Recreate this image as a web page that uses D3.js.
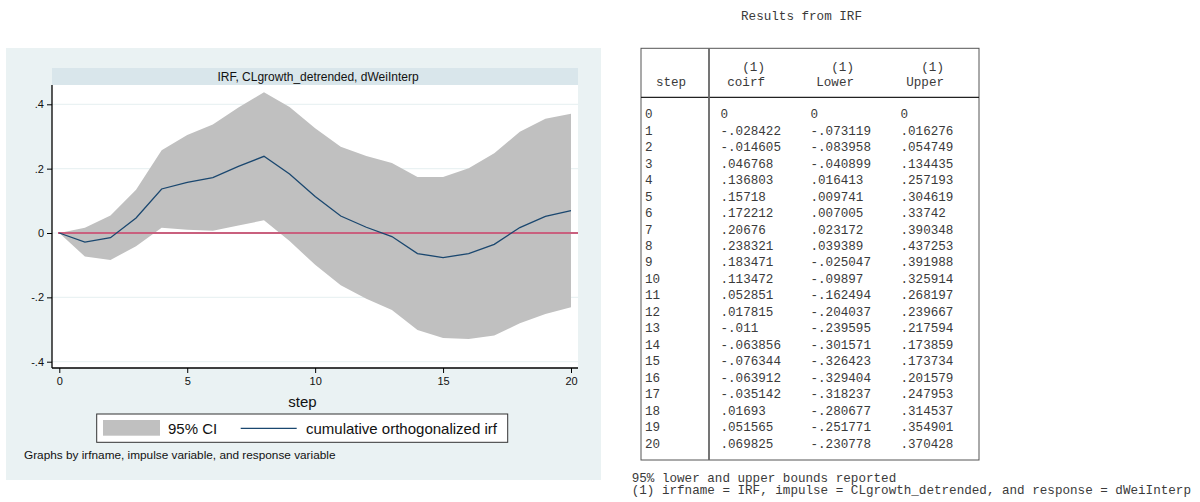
<!DOCTYPE html>
<html>
<head>
<meta charset="utf-8">
<script src="https://cdn.jsdelivr.net/npm/d3@7"></script>
<style>
  body { margin: 0; background: #fff; }
  svg { display: block; }
  .mono { font-family: "Liberation Mono", "Courier New", monospace; font-size: 12.6px; fill: #3a3a3a; }
  .sans { font-family: "Liberation Sans", Arial, sans-serif; }
</style>
</head>
<body>
<svg id="chart" width="1200" height="502"></svg>
<script>
// values from the IRF results table
const steps = d3.range(0, 21);
const coirf = [0, -.028422, -.014605, .046768, .136803, .15718, .172212, .20676, .238321, .183471,
  .113472, .052851, .017815, -.011, -.063856, -.076344, -.063912, -.035142, .01693, .051565, .069825];
const lower = [0, -.073119, -.083958, -.040899, .016413, .009741, .007005, .023172, .039389, -.025047,
  -.09897, -.162494, -.204037, -.239595, -.301571, -.326423, -.329404, -.318237, -.280677, -.251771, -.230778];
const upper = [0, .016276, .054749, .134435, .257193, .304619, .33742, .390348, .437253, .391988,
  .325914, .268197, .239667, .217594, .173859, .173734, .201579, .247953, .314537, .354901, .370428];
const xTicks = [0, 5, 10, 15, 20];
const yTicks = [-.4, -.2, 0, .2, .4];

const svg = d3.select("#chart");

// stata-ish number display: drop the leading zero
const fmt = v => v === 0 ? "0" : String(v).replace("0.", ".");

// ---- graph panel ----
svg.append("rect").attr("x", 6).attr("y", 48).attr("width", 595).attr("height", 432).attr("fill", "#eaf2f3");

const plot = { left: 52, right: 578, top: 85, bottom: 368 };
svg.append("rect").attr("x", plot.left).attr("y", 68).attr("width", plot.right - plot.left).attr("height", 17)
  .attr("fill", "#d9e6eb");
svg.append("text").attr("class", "sans").attr("x", 318).attr("y", 80.5).attr("text-anchor", "middle")
  .attr("font-size", 12).attr("fill", "#111").text("IRF, CLgrowth_detrended, dWeiInterp");

svg.append("rect").attr("x", plot.left).attr("y", plot.top).attr("width", plot.right - plot.left)
  .attr("height", plot.bottom - plot.top).attr("fill", "#fff");

const x = d3.scaleLinear().domain([0, 20]).range([59.3, 571]);
const y = d3.scaleLinear().domain([-.4, .4]).range([361.7, 104.3]);

// grid
svg.append("g").selectAll("line").data(yTicks).join("line")
  .attr("x1", plot.left).attr("x2", plot.right)
  .attr("y1", d => y(d)).attr("y2", d => y(d))
  .attr("stroke", "#eaf2f3").attr("stroke-width", 1.2);

// confidence band
const band = d3.area().x(d => x(d)).y0(d => y(lower[d])).y1(d => y(upper[d]));
svg.append("path").datum(steps).attr("d", band).attr("fill", "#c0c0c0");

// zero line
svg.append("line").attr("x1", 58).attr("x2", plot.right).attr("y1", y(0)).attr("y2", y(0))
  .attr("stroke", "#c9607e").attr("stroke-width", 2);

// irf line
const line = d3.line().x(d => x(d)).y(d => y(coirf[d]));
svg.append("path").datum(steps).attr("d", line).attr("fill", "none")
  .attr("stroke", "#1a476f").attr("stroke-width", 1.3);

// axes
const yAxis = svg.append("g").attr("transform", `translate(${plot.left},0)`)
  .call(d3.axisLeft(y).tickValues(yTicks).tickSize(5).tickPadding(3)
    .tickFormat(d => d === 0 ? "0" : String(+d.toFixed(1)).replace("0.", ".")));
yAxis.select(".domain").attr("d", `M0,${plot.top}V${plot.bottom}`).attr("stroke", "#000").attr("stroke-width", 1.3);

const xAxis = svg.append("g").attr("transform", `translate(0,${plot.bottom})`)
  .call(d3.axisBottom(x).tickValues(xTicks).tickSize(5).tickPadding(4));
xAxis.select(".domain").attr("d", `M${plot.left},0H${plot.right}`).attr("stroke", "#000").attr("stroke-width", 1.3);

[yAxis, xAxis].forEach(g => {
  g.selectAll("text").attr("font-family", "Liberation Sans, Arial, sans-serif").attr("font-size", 11).attr("fill", "#111");
  g.selectAll(".tick line").attr("stroke", "#000");
});

svg.append("text").attr("class", "sans").attr("x", 302.5).attr("y", 407).attr("text-anchor", "middle")
  .attr("font-size", 15).attr("fill", "#111").text("step");

// legend
svg.append("rect").attr("x", 96.7).attr("y", 414).attr("width", 411).attr("height", 28.3)
  .attr("fill", "#fff").attr("stroke", "#333").attr("stroke-width", 1);
svg.append("rect").attr("x", 103).attr("y", 420).attr("width", 57).attr("height", 15.7).attr("fill", "#c0c0c0");
svg.append("text").attr("class", "sans").attr("x", 168).attr("y", 434.3).attr("font-size", 15)
  .attr("fill", "#111").text("95% CI");
svg.append("line").attr("x1", 240.7).attr("x2", 296.7).attr("y1", 428.3).attr("y2", 428.3)
  .attr("stroke", "#1a476f").attr("stroke-width", 1.3);
svg.append("text").attr("class", "sans").attr("x", 306).attr("y", 434.3).attr("font-size", 15)
  .attr("fill", "#111").text("cumulative orthogonalized irf");

svg.append("text").attr("class", "sans").attr("x", 24).attr("y", 459).attr("font-size", 11.8)
  .attr("fill", "#111").text("Graphs by irfname, impulse variable, and response variable");

// ---- results table ----
svg.append("text").attr("class", "mono").attr("x", 801.5).attr("y", 20).attr("text-anchor", "middle")
  .text("Results from IRF");

const tb = { left: 641, right: 979, top: 48.3, head: 97.3, bottom: 460, div: 709 };
svg.append("rect").attr("x", tb.left).attr("y", tb.top).attr("width", tb.right - tb.left)
  .attr("height", tb.bottom - tb.top).attr("fill", "none").attr("stroke", "#555").attr("stroke-width", 1);
svg.append("line").attr("x1", tb.left).attr("x2", tb.right).attr("y1", tb.head).attr("y2", tb.head)
  .attr("stroke", "#222").attr("stroke-width", 1.2);
svg.append("line").attr("x1", tb.div).attr("x2", tb.div).attr("y1", tb.top).attr("y2", tb.bottom)
  .attr("stroke", "#666").attr("stroke-width", 1.8);

const colX = [645, 720.5, 810.5, 900.5];
const headRight = [765, 854, 944];
const headNames = ["coirf", "Lower", "Upper"];
svg.append("text").attr("class", "mono").attr("x", 671).attr("y", 86).attr("text-anchor", "middle").text("step");
headNames.forEach((h, i) => {
  svg.append("text").attr("class", "mono").attr("x", headRight[i]).attr("y", 71).attr("text-anchor", "end").text("(1)");
  svg.append("text").attr("class", "mono").attr("x", headRight[i]).attr("y", 86).attr("text-anchor", "end").text(h);
});

const rowY = d3.scaleLinear().domain([0, 20]).range([118.3, 447.6]);
const rows = svg.append("g").selectAll("g").data(steps).join("g")
  .attr("transform", d => `translate(0,${rowY(d)})`);
rows.append("text").attr("class", "mono").attr("x", colX[0]).text(d => d);
rows.append("text").attr("class", "mono").attr("x", colX[1]).text(d => fmt(coirf[d]));
rows.append("text").attr("class", "mono").attr("x", colX[2]).text(d => fmt(lower[d]));
rows.append("text").attr("class", "mono").attr("x", colX[3]).text(d => fmt(upper[d]));

svg.append("text").attr("class", "mono").attr("x", 631.7).attr("y", 481.5).text("95% lower and upper bounds reported");
svg.append("text").attr("class", "mono").attr("x", 631.7).attr("y", 494.3)
  .text("(1) irfname = IRF, impulse = CLgrowth_detrended, and response = dWeiInterp");
</script>
</body>
</html>
